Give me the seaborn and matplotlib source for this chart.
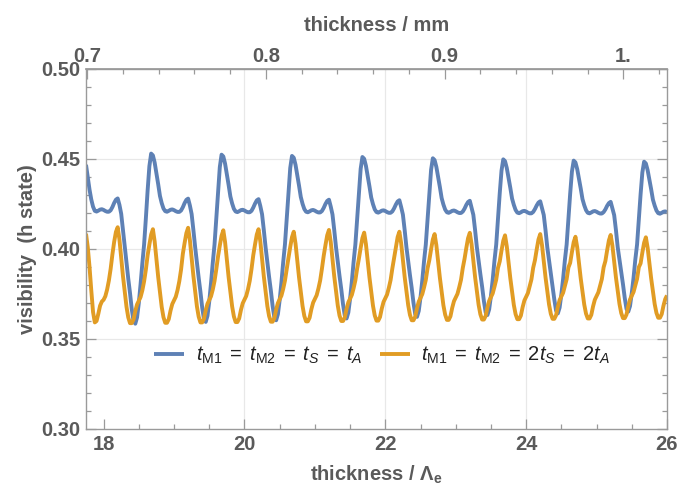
import numpy as np
import pandas as pd
import matplotlib
matplotlib.use("Agg")
import matplotlib.pyplot as plt
from matplotlib.ticker import MultipleLocator, FixedLocator
import seaborn as sns

# ---- data ----
x_start, x_step, n_pts = 17.75, 0.025, 331
thickness = np.round(x_start + x_step * np.arange(n_pts), 3)

blue_vals = [
    # 17.75 .. 18.20
    0.4468, 0.4400, 0.4330, 0.4275, 0.4235, 0.4212, 0.4208, 0.4213, 0.4219, 0.4221,
    0.4217, 0.4211, 0.4207, 0.4207, 0.4215, 0.4233, 0.4256, 0.4274, 0.4281,
    # 18.225 .. 19.20
    0.4245, 0.4195, 0.4105, 0.4010, 0.3920, 0.3835, 0.3755, 0.3665, 0.3600, 0.3585,
    0.3620, 0.3700, 0.3805, 0.3920, 0.4025, 0.4170, 0.4325, 0.4460, 0.4530, 0.4520,
    0.4480, 0.4420, 0.4360, 0.4295, 0.4255, 0.4225, 0.4210, 0.4207, 0.4212, 0.4218,
    0.4220, 0.4216, 0.4210, 0.4206, 0.4206, 0.4214, 0.4232, 0.4255, 0.4273, 0.4280,
    # 19.225 .. 20.20
    0.4242, 0.4194, 0.4105, 0.4010, 0.3923, 0.3840, 0.3762, 0.3674, 0.3610, 0.3595,
    0.3629, 0.3708, 0.3810, 0.3923, 0.4025, 0.4169, 0.4322, 0.4455, 0.4524, 0.4514,
    0.4474, 0.4415, 0.4356, 0.4292, 0.4253, 0.4223, 0.4208, 0.4205, 0.4210, 0.4216,
    0.4218, 0.4214, 0.4208, 0.4204, 0.4204, 0.4212, 0.4230, 0.4252, 0.4270, 0.4277,
    # 20.225 .. 21.20
    0.4239, 0.4193, 0.4105, 0.4010, 0.3926, 0.3845, 0.3769, 0.3683, 0.3619, 0.3604,
    0.3638, 0.3716, 0.3815, 0.3926, 0.4025, 0.4168, 0.4319, 0.4450, 0.4517, 0.4507,
    0.4468, 0.4410, 0.4352, 0.4289, 0.4251, 0.4222, 0.4207, 0.4204, 0.4209, 0.4215,
    0.4217, 0.4213, 0.4207, 0.4203, 0.4203, 0.4211, 0.4228, 0.4250, 0.4267, 0.4274,
    # 21.225 .. 22.20
    0.4236, 0.4192, 0.4105, 0.4010, 0.3929, 0.3850, 0.3776, 0.3692, 0.3629, 0.3614,
    0.3647, 0.3724, 0.3820, 0.3929, 0.4025, 0.4167, 0.4316, 0.4445, 0.4511, 0.4501,
    0.4462, 0.4405, 0.4348, 0.4286, 0.4249, 0.4220, 0.4205, 0.4202, 0.4207, 0.4213,
    0.4215, 0.4211, 0.4205, 0.4201, 0.4201, 0.4209, 0.4226, 0.4247, 0.4264, 0.4271,
    # 22.225 .. 23.20
    0.4233, 0.4191, 0.4105, 0.4010, 0.3932, 0.3855, 0.3783, 0.3701, 0.3638, 0.3623,
    0.3656, 0.3732, 0.3825, 0.3932, 0.4025, 0.4166, 0.4313, 0.4440, 0.4504, 0.4494,
    0.4456, 0.4400, 0.4344, 0.4283, 0.4247, 0.4219, 0.4204, 0.4201, 0.4206, 0.4212,
    0.4214, 0.4210, 0.4204, 0.4200, 0.4200, 0.4208, 0.4224, 0.4245, 0.4261, 0.4268,
    # 23.225 .. 24.20
    0.4230, 0.4190, 0.4105, 0.4010, 0.3935, 0.3860, 0.3790, 0.3710, 0.3648, 0.3633,
    0.3665, 0.3740, 0.3830, 0.3935, 0.4025, 0.4165, 0.4310, 0.4435, 0.4498, 0.4488,
    0.4450, 0.4395, 0.4340, 0.4280, 0.4245, 0.4217, 0.4202, 0.4199, 0.4204, 0.4210,
    0.4212, 0.4208, 0.4202, 0.4198, 0.4198, 0.4206, 0.4222, 0.4242, 0.4258, 0.4265,
    # 24.225 .. 25.20
    0.4227, 0.4189, 0.4105, 0.4010, 0.3938, 0.3865, 0.3797, 0.3719, 0.3657, 0.3642,
    0.3674, 0.3748, 0.3835, 0.3938, 0.4025, 0.4164, 0.4307, 0.4430, 0.4491, 0.4481,
    0.4444, 0.4390, 0.4336, 0.4277, 0.4243, 0.4216, 0.4201, 0.4198, 0.4203, 0.4209,
    0.4211, 0.4207, 0.4201, 0.4197, 0.4197, 0.4205, 0.4220, 0.4240, 0.4255, 0.4262,
    # 25.225 .. 26.00
    0.4224, 0.4188, 0.4105, 0.4010, 0.3941, 0.3870, 0.3804, 0.3728, 0.3667, 0.3652,
    0.3683, 0.3756, 0.3840, 0.3941, 0.4025, 0.4163, 0.4304, 0.4425, 0.4485, 0.4475,
    0.4438, 0.4385, 0.4332, 0.4274, 0.4241, 0.4214, 0.4199, 0.4196, 0.4201, 0.4207,
    0.4209, 0.4205,
]

orange_vals = [
    # 17.75 .. 18.20
    0.4085, 0.4010, 0.3900, 0.3770, 0.3650, 0.3592, 0.3600, 0.3640, 0.3685, 0.3708,
    0.3718, 0.3738, 0.3775, 0.3825, 0.3890, 0.3970, 0.4040, 0.4095, 0.4121,
    # half-cycles of 0.5, each from peak+0.025 to next peak
    0.4052, 0.3950, 0.3849, 0.3764, 0.3679, 0.3620, 0.3588, 0.3588, 0.3608, 0.3655,
    0.3692, 0.3712, 0.3733, 0.3770, 0.3820, 0.3885, 0.3965, 0.4025, 0.4080, 0.4110,
    0.4042, 0.3944, 0.3845, 0.3762, 0.3678, 0.3621, 0.3590, 0.3590, 0.3610, 0.3657,
    0.3694, 0.3714, 0.3735, 0.3772, 0.3821, 0.3886, 0.3973, 0.4033, 0.4088, 0.4118,
    0.4050, 0.3950, 0.3850, 0.3766, 0.3681, 0.3624, 0.3592, 0.3592, 0.3612, 0.3659,
    0.3696, 0.3716, 0.3737, 0.3774, 0.3822, 0.3887, 0.3959, 0.4019, 0.4074, 0.4104,
    0.4038, 0.3941, 0.3844, 0.3762, 0.3681, 0.3625, 0.3594, 0.3594, 0.3614, 0.3661,
    0.3698, 0.3718, 0.3739, 0.3776, 0.3823, 0.3888, 0.3965, 0.4025, 0.4080, 0.4110,
    0.4043, 0.3946, 0.3848, 0.3766, 0.3683, 0.3627, 0.3596, 0.3596, 0.3616, 0.3663,
    0.3700, 0.3720, 0.3741, 0.3778, 0.3824, 0.3889, 0.3951, 0.4011, 0.4066, 0.4096,
    0.4031, 0.3937, 0.3842, 0.3762, 0.3683, 0.3628, 0.3598, 0.3598, 0.3618, 0.3665,
    0.3702, 0.3722, 0.3743, 0.3780, 0.3825, 0.3890, 0.3961, 0.4021, 0.4076, 0.4106,
    0.4040, 0.3944, 0.3848, 0.3767, 0.3686, 0.3630, 0.3600, 0.3600, 0.3620, 0.3667,
    0.3704, 0.3724, 0.3745, 0.3782, 0.3826, 0.3891, 0.3946, 0.4006, 0.4061, 0.4091,
    0.4027, 0.3935, 0.3842, 0.3763, 0.3685, 0.3631, 0.3602, 0.3602, 0.3622, 0.3669,
    0.3706, 0.3726, 0.3747, 0.3784, 0.3827, 0.3892, 0.3951, 0.4011, 0.4066, 0.4096,
    0.4032, 0.3939, 0.3845, 0.3766, 0.3688, 0.3634, 0.3604, 0.3604, 0.3624, 0.3671,
    0.3708, 0.3728, 0.3749, 0.3786, 0.3828, 0.3893, 0.3938, 0.3998, 0.4053, 0.4083,
    0.4021, 0.3930, 0.3840, 0.3763, 0.3687, 0.3635, 0.3606, 0.3606, 0.3626, 0.3673,
    0.3710, 0.3730, 0.3751, 0.3788, 0.3829, 0.3894, 0.3945, 0.4005, 0.4060, 0.4090,
    0.4027, 0.3936, 0.3844, 0.3767, 0.3690, 0.3637, 0.3608, 0.3608, 0.3628, 0.3675,
    0.3712, 0.3732, 0.3753, 0.3790, 0.3830, 0.3895, 0.3931, 0.3991, 0.4046, 0.4076,
    0.4015, 0.3927, 0.3838, 0.3764, 0.3689, 0.3638, 0.3610, 0.3610, 0.3630, 0.3677,
    0.3714, 0.3734, 0.3755, 0.3792, 0.3831, 0.3896, 0.3938, 0.3998, 0.4053, 0.4083,
    0.4022, 0.3932, 0.3843, 0.3767, 0.3692, 0.3640, 0.3612, 0.3612, 0.3632, 0.3679,
    0.3716, 0.3736, 0.3757, 0.3794, 0.3832, 0.3897, 0.3923, 0.3983, 0.4038, 0.4068,
    0.4009, 0.3923, 0.3836, 0.3764, 0.3691, 0.3641, 0.3614, 0.3614, 0.3634, 0.3681,
    0.3718, 0.3738, 0.3759, 0.3796, 0.3833, 0.3898, 0.3933, 0.3993, 0.4048, 0.4078,
    0.4018, 0.3930, 0.3842, 0.3768, 0.3695, 0.3644, 0.3616, 0.3616, 0.3636, 0.3683,
    0.3720, 0.3740, 0.3761, 0.3798, 0.3834, 0.3899, 0.3920, 0.3980, 0.4035, 0.4065,
    # 25.725 .. 26.00
    0.4007, 0.3922, 0.3837, 0.3766, 0.3694, 0.3645, 0.3618, 0.3618, 0.3638, 0.3685,
    0.3722, 0.3742,
]

series_labels = [
    r"$t_{\mathrm{M1}}\;=\;t_{\mathrm{M2}}\;=\;t_S\;=\;t_A$",
    r"$t_{\mathrm{M1}}\;=\;t_{\mathrm{M2}}\;=\;2t_S\;=\;2t_A$",
]
series_colors = ["#5E81B5", "#E19C24"]

x_ticks = [18, 20, 22, 24, 26]
y_ticks = [0.30, 0.35, 0.40, 0.45, 0.50]
mm_ticks = [0.7, 0.8, 0.9, 1.0]
mm_tick_labels = ["0.7", "0.8", "0.9", "1."]
lambda_mm = 0.0394  # mm per Lambda_e

# ---- styling ----
sns.set_theme(style="white")
plt.rcParams["font.family"] = ["Liberation Sans", "DejaVu Sans"]
plt.rcParams["mathtext.fontset"] = "custom"
plt.rcParams["mathtext.rm"] = "Liberation Sans"
plt.rcParams["mathtext.it"] = "Liberation Sans:italic"
plt.rcParams["mathtext.bf"] = "Liberation Sans:bold"

txt_c = "#5a5a5a"
spine_c = "#9a9a9a"
grid_c = "#e8e8e8"
fs = 14.5

df = pd.DataFrame({
    "thickness": np.concatenate([thickness, thickness]),
    "visibility": blue_vals + orange_vals,
    "series": [series_labels[0]] * n_pts + [series_labels[1]] * n_pts,
})

fig = plt.figure(figsize=(6.8, 4.88), dpi=100)
ax = fig.add_axes([86 / 680, 1 - 429 / 488, (667 - 86) / 680, (429 - 69) / 488])

for v in [20, 22, 24]:
    ax.axvline(v, color=grid_c, lw=0.9, zorder=0)
for v in [0.35, 0.40, 0.45]:
    ax.axhline(v, color=grid_c, lw=0.9, zorder=0)

sns.lineplot(data=df, x="thickness", y="visibility", hue="series",
             palette=series_colors, linewidth=2.8, ax=ax, legend=False,
             sort=False, estimator=None)
for ln in ax.get_lines()[-2:]:
    ln.set_solid_joinstyle("round")
    ln.set_solid_capstyle("butt")

ax.set_xlim(17.75, 26.0)
ax.set_ylim(0.30, 0.50)
ax.xaxis.set_major_locator(FixedLocator(x_ticks))
ax.xaxis.set_minor_locator(MultipleLocator(0.5))
ax.yaxis.set_major_locator(FixedLocator(y_ticks))
ax.yaxis.set_minor_locator(MultipleLocator(0.01))
ax.set_yticklabels([f"{v:.2f}" for v in y_ticks])
ax.set_xticklabels([str(v) for v in x_ticks])

ax.tick_params(which="both", direction="in", color=spine_c, width=0.9,
               top=False, right=True, bottom=True, left=True)
ax.tick_params(which="major", length=7, labelsize=fs, labelcolor=txt_c, pad=4)
ax.tick_params(which="minor", length=3.5)
for lab in ax.get_xticklabels() + ax.get_yticklabels():
    lab.set_fontweight("bold")

for s in ax.spines.values():
    s.set_color(spine_c)
    s.set_linewidth(1.0)

secax = ax.secondary_xaxis("top", functions=(lambda v: v * lambda_mm,
                                              lambda v: v / lambda_mm))
secax.set_xticks(mm_ticks)
secax.set_xticklabels(mm_tick_labels)
secax.xaxis.set_minor_locator(MultipleLocator(0.02))
secax.tick_params(which="both", direction="in", color=spine_c, width=0.9)
secax.tick_params(which="major", length=7, labelsize=fs, labelcolor=txt_c, pad=2)
secax.tick_params(which="minor", length=3.5)
for lab in secax.get_xticklabels():
    lab.set_fontweight("bold")
secax.spines["top"].set_color(spine_c)
secax.set_xlabel("thickness / mm", fontsize=fs, fontweight="bold",
                 color=txt_c, labelpad=12)

ax.set_xlabel(r"thickness / Λ$_{\mathbf{e}}$", fontsize=fs, fontweight="bold",
              color=txt_c, labelpad=7)
ax.set_ylabel("visibility  (h state)", fontsize=fs, fontweight="bold",
              color=txt_c, labelpad=3)

handles = ax.get_lines()[-2:]
leg = ax.legend(handles, series_labels, loc="center", bbox_to_anchor=(0.51, 0.205),
                ncol=2, frameon=False, fontsize=14.5, handlelength=1.5,
                columnspacing=0.9, handletextpad=0.55)
for t in leg.get_texts():
    t.set_color("#222222")

fig.savefig("out.png", dpi=100)
